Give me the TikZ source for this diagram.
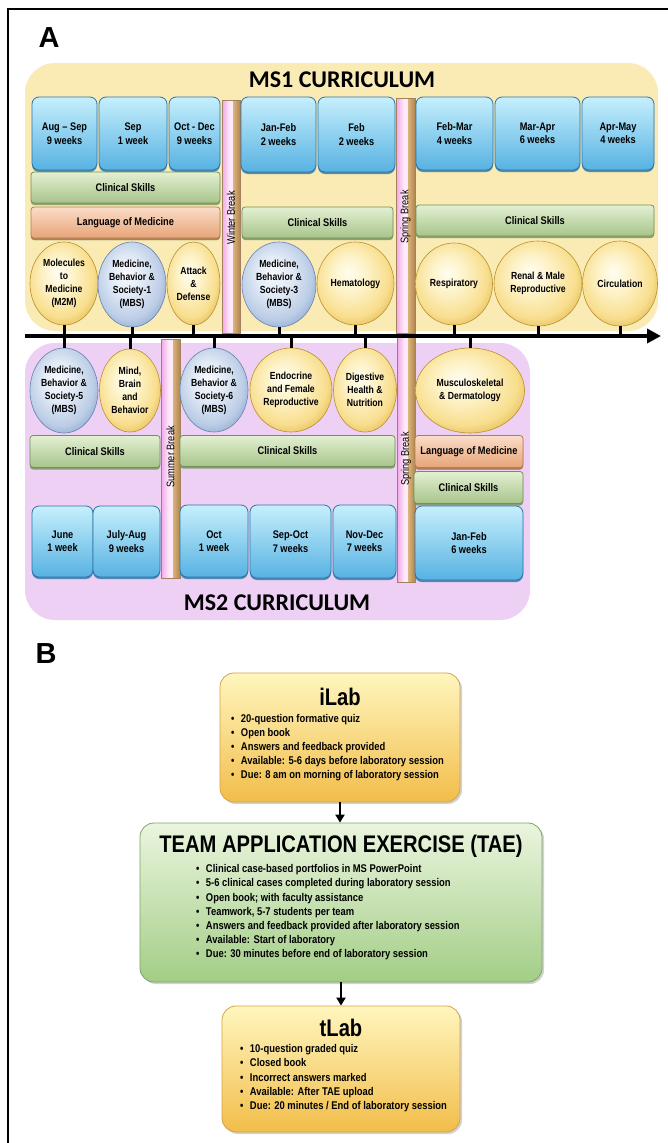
\documentclass[tikz,border=0pt]{standalone}
\usepackage{fontspec}
\setmainfont{Liberation Sans}[FakeStretch=0.84]
\newfontfamily\panelfont{Liberation Sans}
\newfontfamily\headfont{Carlito}
\usepackage{tikz}
\usetikzlibrary{arrows.meta}
\usetikzlibrary{shapes.geometric}
\usetikzlibrary{shadows}

\definecolor{msonebg}{HTML}{FAEBB5}
\definecolor{mstwobg}{HTML}{EDD0F4}
\definecolor{wktop}{HTML}{C6EFFC}
\definecolor{wkbot}{HTML}{57B2E2}
\definecolor{wkedge}{HTML}{2F74A6}
\definecolor{sktop}{HTML}{E3F0D3}
\definecolor{skbot}{HTML}{A7C48A}
\definecolor{skedge}{HTML}{71905A}
\definecolor{lgtop}{HTML}{FBDDC8}
\definecolor{lgbot}{HTML}{E7A478}
\definecolor{lgedge}{HTML}{B77A52}
\definecolor{golda}{HTML}{FFFDF0}
\definecolor{goldb}{HTML}{FDF1C4}
\definecolor{goldc}{HTML}{F8DE8E}
\definecolor{goldd}{HTML}{E2B44A}
\definecolor{goldedge}{HTML}{B8912E}
\definecolor{mbsa}{HTML}{F8FAFE}
\definecolor{mbsb}{HTML}{E0E9F5}
\definecolor{mbsc}{HTML}{BCCDE6}
\definecolor{mbsd}{HTML}{84A2CC}
\definecolor{mbsedge}{HTML}{6483AE}
\definecolor{brkpinka}{HTML}{F2A6E6}
\definecolor{brkpinkb}{HTML}{FDEBFA}
\definecolor{brktana}{HTML}{DDB67E}
\definecolor{brktanb}{HTML}{B0864E}
\definecolor{brkedge}{HTML}{A58060}
\definecolor{ilabtop}{HTML}{FFF6BE}
\definecolor{ilabbot}{HTML}{F2BD4A}
\definecolor{ilabedge}{HTML}{D5A247}
\definecolor{taetop}{HTML}{EAF5DE}
\definecolor{taebot}{HTML}{A3CD86}
\definecolor{taeedge}{HTML}{7FA463}

\pgfdeclarehorizontalshading{brkshade}{100bp}{color(0bp)=(brkpinka); color(25bp)=(brkpinka);
  color(46bp)=(brkpinkb); color(54bp)=(brkpinkb); color(55bp)=(brktana); color(75bp)=(brktanb); color(100bp)=(brktanb)}
\pgfdeclareradialshading{goldball}{\pgfqpoint{-5bp}{7bp}}{color(0bp)=(golda); color(12bp)=(goldb);
  color(24bp)=(goldc); color(33bp)=(goldd); color(50bp)=(goldd)}
\pgfdeclareradialshading{mbsball}{\pgfqpoint{-5bp}{7bp}}{color(0bp)=(mbsa); color(12bp)=(mbsb);
  color(24bp)=(mbsc); color(33bp)=(mbsd); color(50bp)=(mbsd)}

\newcommand{\lblfont}{\bfseries\fontsize{11}{13.5}\selectfont}
\newcommand{\ovalfont}{\bfseries\fontsize{10.3}{13}\selectfont}
\newcommand{\brkfont}{\fontsize{11}{12}\selectfont}
\newcommand{\itemfont}{\bfseries\fontsize{11.2}{13}\selectfont}

\tikzset{
	frame/.style={line width=2.5pt, draw=black},
	panel/.style={font=\panelfont\bfseries\fontsize{29}{30}\selectfont, inner sep=0pt},
	msttl/.style={font=\headfont\bfseries\fontsize{24}{28}\selectfont, inner sep=0pt},
	wkbox/.style={rectangle, rounded corners=7pt, draw=wkedge, line width=.8pt,
		top color=wktop, bottom color=wkbot, align=center, inner sep=1pt, font=\lblfont,
		drop shadow={shadow xshift=0pt, shadow yshift=-2pt, fill=wkedge, opacity=.8}},
	skillbar/.style={rectangle, rounded corners=3pt, draw=skedge, line width=.8pt,
		top color=sktop, bottom color=skbot, inner sep=1pt, font=\lblfont,
		drop shadow={shadow xshift=0pt, shadow yshift=-2pt, fill=skedge, opacity=.8}},
	langbar/.style={skillbar, draw=lgedge, top color=lgtop, bottom color=lgbot,
		drop shadow={shadow xshift=0pt, shadow yshift=-2pt, fill=lgedge, opacity=.8}},
	gold/.style={ellipse, draw=goldedge, line width=.6pt, shading=goldball,
		align=center, inner sep=0pt, font=\ovalfont},
	mbs/.style={gold, draw=mbsedge, shading=mbsball},
	brkbar/.style={shading=brkshade, draw=brkedge, line width=.5pt},
	brklbl/.style={rotate=90, font=\brkfont, inner sep=0pt},
	timeline/.style={line width=4pt, -{Triangle[length=14pt,width=14pt]}},
	tick/.style={line width=3pt},
	labbox/.style={rectangle, rounded corners=14pt, draw=ilabedge, line width=.8pt,
		top color=ilabtop, bottom color=ilabbot,
		drop shadow={opacity=.35, shadow xshift=2pt, shadow yshift=-2pt}},
	taebox/.style={labbox, draw=taeedge, top color=taetop, bottom color=taebot},
	btitle/.style={font=\bfseries\fontsize{24}{28}\selectfont, inner sep=0pt},
	item/.style={anchor=west, font=\itemfont, inner sep=0pt, text height=8pt, text depth=2.5pt},
	flow/.style={line width=2pt, -{Triangle[length=8pt,width=9pt]}},
}

\begin{document}
\begin{tikzpicture}[x=1pt, y=-1pt]
	\useasboundingbox (0,0) rectangle (667,1143);
	\fill[white] (0,0) rectangle (667,1143);
	\draw[frame] (8,1150) -- (8,9) -- (675,9);
	\node[panel] (pa) at (49,38) {A};
	\node[panel] (pb) at (46,654) {B};

	% backgrounds
	\fill[msonebg, rounded corners=30pt] (25,63) rectangle (658,331);
	\fill[mstwobg, rounded corners=30pt] (25,343) rectangle (530,620);
	\node[msttl] (msone) at (342,80) {MS1 CURRICULUM};
	\node[msttl] (mstwo) at (277,603) {MS2 CURRICULUM};

	% breaks
	\foreach \nm/\xa/\ya/\xb/\yb/\ym/\txt in {winter/222/100/240/333/218/Winter Break,
		springa/396/98/415/333/217/Spring Break, summer/161/339/180/578/457/Summer Break,
		springb/397/336/415/582/459/Spring Break}
	{
		\path[brkbar] (\xa,\ya) rectangle (\xb,\yb);
		\node[brklbl] (\nm) at ({(\xa+\xb)/2},\ym) {\txt};
	}

	% MS1
	\node[wkbox, minimum width=65, minimum height=73] (augsep) at (64.5,133.5) {Aug -- Sep\\9 weeks};
	\node[wkbox, minimum width=68, minimum height=73] (sep) at (133,133.5) {Sep\\1 week};
	\node[wkbox, minimum width=51, minimum height=73] (octdec) at (194.5,133.5) {Oct - Dec\\9 weeks};
	\node[wkbox, minimum width=75, minimum height=75] (janfeb) at (278.5,134.5) {Jan-Feb\\2 weeks};
	\node[wkbox, minimum width=77, minimum height=75] (feb) at (356.5,134.5) {Feb\\2 weeks};
	\node[wkbox, minimum width=77, minimum height=73] (febmar) at (454.5,133.5) {Feb-Mar\\4 weeks};
	\node[wkbox, minimum width=85, minimum height=73] (marapr) at (537.5,133.5) {Mar-Apr\\6 weeks};
	\node[wkbox, minimum width=72, minimum height=73] (aprmay) at (618,133.5) {Apr-May\\4 weeks};

	\node[skillbar, minimum width=189, minimum height=31] (csa) at (125.5,187.5) {Clinical Skills};
	\node[langbar, minimum width=189, minimum height=31] (lma) at (125.5,222.5) {Language of Medicine};
	\node[skillbar, minimum width=151, minimum height=31] (csb) at (317.5,222.5) {Clinical Skills};
	\node[skillbar, minimum width=238, minimum height=31] (csc) at (535,220.5) {Clinical Skills};

	\node[gold, minimum width=68, minimum height=83] (mtom) at (64,283.5) {Molecules\\to\\Medicine\\(M2M)};
	\node[mbs, minimum width=68, minimum height=85] (mbsa) at (132,284.5) {Medicine,\\Behavior \&\\Society-1\\(MBS)};
	\node[gold, minimum width=53, minimum height=83] (attack) at (193.5,283.5) {Attack\\\&\\Defense};
	\node[mbs, minimum width=74, minimum height=85] (mbsc) at (279,284.5) {Medicine,\\Behavior \&\\Society-3\\(MBS)};
	\node[gold, minimum width=77, minimum height=83] (hema) at (355.5,283.5) {Hematology};
	\node[gold, minimum width=77, minimum height=82] (resp) at (454,284) {Respiratory};
	\node[gold, minimum width=88, minimum height=85] (renal) at (538,283.5) {Renal \& Male\\Reproductive};
	\node[gold, minimum width=75, minimum height=85] (circ) at (620,283.5) {Circulation};

	% MS2
	\node[mbs, minimum width=68, minimum height=85] (mbse) at (64,390.5) {Medicine,\\Behavior \&\\Society-5\\(MBS)};
	\node[gold, minimum width=61, minimum height=83] (mind) at (130,390.5) {Mind,\\Brain\\and\\Behavior};
	\node[mbs, minimum width=68, minimum height=84] (mbsf) at (214,390) {Medicine,\\Behavior \&\\Society-6\\(MBS)};
	\node[gold, minimum width=82, minimum height=84] (endo) at (291,390) {Endocrine\\and Female\\Reproductive};
	\node[gold, minimum width=63, minimum height=84] (dige) at (365,390) {Digestive\\Health \&\\Nutrition};
	\node[gold, minimum width=109, minimum height=85] (musc) at (470,390.5) {Musculoskeletal\\\& Dermatology};

	\node[skillbar, minimum width=130, minimum height=32] (csd) at (95,451.5) {Clinical Skills};
	\node[skillbar, minimum width=215, minimum height=31] (cse) at (287.5,451) {Clinical Skills};
	\node[langbar, minimum width=108, minimum height=32] (lmb) at (469,451.5) {Language of Medicine};
	\node[skillbar, minimum width=109, minimum height=32] (csf) at (468.5,487.5) {Clinical Skills};

	\node[wkbox, minimum width=61, minimum height=71] (june) at (62.5,541.5) {June\\1 week};
	\node[wkbox, minimum width=67, minimum height=71] (julaug) at (126.5,541.5) {July-Aug\\9 weeks};
	\node[wkbox, minimum width=68, minimum height=72] (oct) at (214,541) {Oct\\1 week};
	\node[wkbox, minimum width=81, minimum height=73] (sepoct) at (290.5,541.5) {Sep-Oct\\7 weeks};
	\node[wkbox, minimum width=63, minimum height=73] (novdec) at (364.5,541.5) {Nov-Dec\\7 weeks};
	\node[wkbox, minimum width=108, minimum height=74] (janfebb) at (469,543) {Jan-Feb\\6 weeks};

	% timeline
	\coordinate (axl) at (25,336);
	\coordinate (axr) at (661,336);
	\draw[timeline] (axl) -- (axr);
	\foreach \o in {mtom,mbsa,attack,mbsc,hema,resp,renal,circ}
		\draw[tick] (\o.south) -- (\o.south |- axl);
	\foreach \o in {mbse,mind,mbsf,endo,dige,musc}
		\draw[tick] (\o.north) -- (\o.north |- axl);

	% B
	\node[labbox, minimum width=240, minimum height=129] (ilab) at (340,737.5) {};
	\node[btitle] (ilabttl) at (340,697) {iLab};
	\foreach \t [count=\i] in {20-question formative quiz, Open book, Answers and feedback provided,
		Available: 5-6 days before laboratory session, Due: 8 am on morning of laboratory session}
		\node[item] (ilab\i) at (231,{706+14*\i}) {\textbullet\hspace{6.5pt}\t};

	\node[taebox, minimum width=402, minimum height=159] (tae) at (341,902.5) {};
	\node[btitle] (taettl) at (341,846) {TEAM APPLICATION EXERCISE (TAE)};
	\foreach \t [count=\i] in {Clinical case-based portfolios in MS PowerPoint,
		5-6 clinical cases completed during laboratory session, Open book; with faculty assistance,
		{Teamwork, 5-7 students per team}, Answers and feedback provided after laboratory session,
		Available: Start of laboratory, Due: 30 minutes before end of laboratory session}
		\node[item] (tae\i) at (196,{855.8+14.2*\i}) {\textbullet\hspace{6.5pt}\t};

	\node[labbox, minimum width=238, minimum height=126] (tlab) at (341,1069) {};
	\node[btitle] (tlabttl) at (341,1028) {tLab};
	\foreach \t [count=\i] in {10-question graded quiz, Closed book, Incorrect answers marked,
		Available: After TAE upload, {Due: 20 minutes / End of laboratory session}}
		\node[item] (tlab\i) at (240,{1035.6+14.3*\i}) {\textbullet\hspace{6.5pt}\t};

	\draw[flow] (ilab.south) -- (ilab.south |- tae.north);
	\draw[flow] (tae.south) -- (tlab.north);
\end{tikzpicture}
\end{document}
